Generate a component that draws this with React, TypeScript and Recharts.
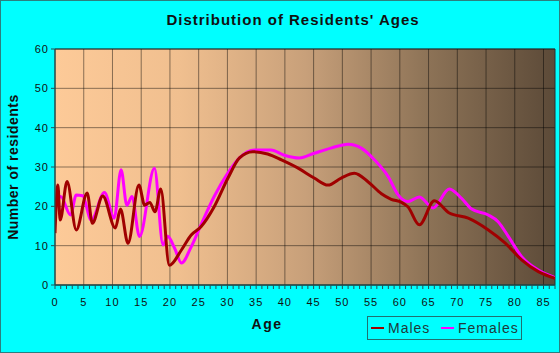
import {
  LineChart,
  Line,
  XAxis,
  YAxis,
  CartesianGrid,
  ReferenceLine,
  ReferenceArea,
} from 'recharts'

// ages where the curves turn
const maleAges = [0, 0.5, 0.9, 2.1, 3.7, 5.6, 6.5, 8.3, 10.5, 11.4, 12.7, 14.6, 15.6, 16.5, 17.4, 18.4, 19.9, 22, 23.7, 25.4, 27.7, 30.1, 32.1, 34.4, 37, 39.4, 42.3, 45.1, 47.5, 49.8, 52.1, 54.5, 56.8, 58.5, 60.3, 61.4, 63.4, 66, 68.6, 71.9, 75.4, 78.3, 81.2, 84.1, 87]
const maleCounts = [13.2, 25.4, 16.5, 26.3, 14, 23.4, 15.7, 22.6, 14.5, 19.3, 10.6, 25.4, 20.3, 21, 18.6, 24.4, 5, 8.9, 12.7, 14.8, 19.9, 27.2, 32.3, 33.9, 33.3, 31.8, 29.7, 27.2, 25.4, 27.2, 28.4, 26.2, 23.2, 21.8, 21, 19.9, 15.3, 21.4, 18.3, 17, 14, 10.7, 6.4, 3.4, 1.7]

const femaleAges = [0, 1, 2.7, 3.7, 4.8, 6.3, 8.6, 10.3, 11.5, 12.5, 13.4, 14.7, 17.3, 18.8, 19.6, 20.8, 22, 23.7, 25.4, 27.7, 30.1, 32.1, 34.7, 37.6, 39.9, 42.5, 45.1, 48, 51, 53.3, 55.6, 58, 59.7, 61.4, 63.4, 65.8, 68.6, 70.7, 72.5, 75.4, 77.1, 78.9, 81.2, 84.1, 87]
const femaleCounts = [19, 22.5, 17.8, 22.9, 22.7, 16.5, 23.5, 17, 29.3, 20.3, 22.5, 12.3, 29.7, 10.2, 12.4, 9.4, 5.6, 9.7, 15.3, 22.5, 28.5, 32.3, 34.3, 34.3, 33, 32.3, 33.5, 34.8, 35.8, 34.8, 31.8, 27.5, 22.9, 21.2, 22.4, 19.6, 24.4, 22.1, 19.3, 17.8, 16.1, 12.3, 7.2, 3.8, 1.9]

const xTicks = Array.from({ length: 88 }, (_, i) => i)
const xGrid = [5, 10, 15, 20, 25, 30, 35, 40, 45, 50, 55, 60, 65, 70, 75, 80, 85]
const yTicks = [0, 10, 20, 30, 40, 50, 60]

const maleData = maleAges.map((age, i) => ({ age, count: maleCounts[i] }))
const femaleData = femaleAges.map((age, i) => ({ age, count: femaleCounts[i] }))

const font = '"Liberation Sans", Arial, sans-serif'
const textColor = '#1f3a3a'

export default function App() {
  return (
    <div
      style={{
        position: 'absolute', left: 0, top: 0, width: 560, height: 353,
        background: '#00ffff', border: '1px solid #2b7f7f', boxSizing: 'border-box',
        fontFamily: font,
      }}
    >
      <div style={{ position: 'absolute', left: 0, top: -1, width: 560, height: 353 }}>
        <LineChart width={560} height={353} margin={{ top: 49, right: 6, bottom: 48, left: 0 }}>
          <defs>
            <linearGradient id="bg" x1="0" y1="0" x2="1" y2="0">
              <stop offset="0%" stopColor="#fdca98" />
              <stop offset="25%" stopColor="#f0bf8f" />
              <stop offset="50%" stopColor="#c8a07a" />
              <stop offset="75%" stopColor="#8c7256" />
              <stop offset="100%" stopColor="#5c4a38" />
            </linearGradient>
          </defs>
          <CartesianGrid fill="url(#bg)" vertical={false} stroke="#000" strokeOpacity={0.45} />
          {xGrid.map((x) => (
            <ReferenceLine key={x} x={x} stroke="#000" strokeOpacity={0.45} />
          ))}
          <ReferenceArea x1={0} x2={87} y1={0} y2={60} fill="none" stroke="#2a3030" strokeWidth={1} />
          <XAxis
            type="number"
            dataKey="age"
            domain={[0, 87]}
            ticks={xTicks}
            interval={0}
            tickFormatter={(v: number) => (v % 5 === 0 ? String(v) : '')}
            height={20}
            tickSize={4}
            tickMargin={9}
            stroke="#225555"
            tick={{ fill: '#111', fontSize: 11, fontFamily: font, letterSpacing: 1 }}
            allowDataOverflow
          />
          <YAxis
            type="number"
            domain={[0, 60]}
            ticks={yTicks}
            interval={0}
            width={54}
            tickSize={4}
            tickMargin={2}
            stroke="#225555"
            tick={{ fill: '#111', fontSize: 11, fontFamily: font, letterSpacing: 1 }}
          />
          <Line
            data={femaleData}
            dataKey="count"
            type="monotone"
            stroke="#ff00ff"
            strokeWidth={3}
            dot={false}
            isAnimationActive={false}
          />
          <Line
            data={maleData}
            dataKey="count"
            type="monotone"
            stroke="#a00000"
            strokeWidth={3}
            dot={false}
            isAnimationActive={false}
          />
        </LineChart>
      </div>

      <div
        style={{
          position: 'absolute', left: 0, top: 10, width: 584, textAlign: 'center',
          fontSize: 15, fontWeight: 'bold', letterSpacing: 1, color: '#111',
        }}
      >
        Distribution of Residents' Ages
      </div>

      <div style={{ position: 'absolute', left: 12, top: 167, width: 0, height: 0 }}>
        <div
          style={{
            position: 'absolute', left: -100, top: -9, width: 200, textAlign: 'center',
            transform: 'rotate(-90deg)', fontSize: 14, fontWeight: 'bold', letterSpacing: 0.5,
            color: '#111',
          }}
        >
          Number of residents
        </div>
      </div>

      <div
        style={{
          position: 'absolute', left: 216, top: 315, width: 100, textAlign: 'center',
          fontSize: 14, fontWeight: 'bold', letterSpacing: 1.5, color: '#111',
        }}
      >
        Age
      </div>

      <div
        style={{
          position: 'absolute', left: 366, top: 315, width: 155, height: 24,
          border: '1px solid #207070', boxSizing: 'border-box',
          fontSize: 14, letterSpacing: 1, color: textColor,
        }}
      >
        <div style={{ position: 'absolute', left: 3, top: 10, width: 13, height: 2, background: '#a00000' }} />
        <div style={{ position: 'absolute', left: 20, top: 3, lineHeight: '16px' }}>Males</div>
        <div style={{ position: 'absolute', left: 73, top: 10, width: 13, height: 2, background: '#ff00ff' }} />
        <div style={{ position: 'absolute', left: 90, top: 3, lineHeight: '16px' }}>Females</div>
      </div>
    </div>
  )
}
